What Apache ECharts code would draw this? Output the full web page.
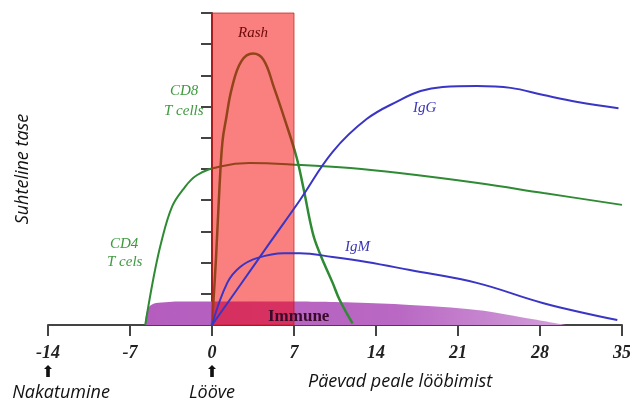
<!DOCTYPE html>
<html>
<head>
<meta charset="utf-8">
<script src="https://cdn.jsdelivr.net/npm/echarts@6/dist/echarts.min.js"></script>
<style>
  html, body { margin: 0; padding: 0; background: #fff; }
  #chart { width: 630px; height: 405px; }
</style>
</head>
<body>
<div id="chart"></div>
<script>
// days after rash vs relative level
var cd8Days = [0, 0.35, 0.65, 0.9, 1.2, 1.7, 2.5, 3.5, 4.4, 5.3, 6.2, 7.2, 7.8, 8.6, 9.2, 10.3, 10.9, 12.0];
var cd8Vals = [0, 2.2, 4.5, 5.9, 6.6, 7.6, 8.45, 8.7, 8.5, 7.6, 6.6, 5.4, 4.4, 2.95, 2.3, 1.35, 0.8, 0.05];

var cd4Days = [-5.7, -5.0, -4.3, -3.4, -2.5, -1.3, 0.7, 3.2, 7.5, 11.8, 16, 22.7, 28.3, 35];
var cd4Vals = [0, 1.5, 2.7, 3.8, 4.33, 4.8, 5.08, 5.19, 5.13, 5.03, 4.87, 4.55, 4.23, 3.85];

var igGDays = [0, 2.5, 5, 7.5, 10.3, 13.2, 16, 17.8, 19.7, 22.6, 25.5, 28.3, 31.2, 34.7];
var igGVals = [0, 1.33, 2.67, 4.0, 5.55, 6.6, 7.2, 7.5, 7.63, 7.66, 7.6, 7.37, 7.15, 6.95];

var igMDays = [0, 1.3, 2.4, 3.9, 6.1, 7.5, 10.3, 13.2, 16.9, 22.6, 28.3, 34.6];
var igMVals = [0, 1.35, 1.86, 2.15, 2.3, 2.3, 2.18, 2.02, 1.76, 1.35, 0.7, 0.16];

var immuneDays = [-5.7, -5.6, -5.2, -4.3, -2, 5, 12, 16.9, 22.6, 26.9, 30.3];
var immuneVals = [0, 0.38, 0.64, 0.72, 0.75, 0.75, 0.72, 0.64, 0.48, 0.22, 0];

var rashSpan = [0, 7];
var xTicks = { min: -14, max: 35, step: 7 };
var arrowNotes = { '-14': 'Nakatumine', '0': 'Lööve' };

function pairs(xs, ys) {
    return xs.map(function (x, i) { return [x, ys[i]]; });
}

var serif = '"Liberation Serif", "DejaVu Serif", serif';
var sans = '"Open Sans", "Noto Sans", sans-serif';

var chart = echarts.init(document.getElementById('chart'));
chart.setOption({
    animation: false,
    grid: { left: 48, right: 8, top: 13, bottom: 80, containLabel: false, outerBoundsMode: 'none' },
    xAxis: {
        type: 'value',
        min: xTicks.min,
        max: xTicks.max,
        interval: xTicks.step,
        splitLine: { show: false },
        axisLine: { lineStyle: { color: '#444', width: 2 } },
        axisTick: { length: 11, lineStyle: { color: '#444', width: 2 } },
        axisLabel: {
            margin: 18,
            formatter: function (v) {
                var note = arrowNotes[String(v)];
                if (note) {
                    return '{v|' + v + '}\n{a|⬆}\n{' + (v < 0 ? 'n' : 'l') + '|' + note + '}';
                }
                return '{v|' + v + '}';
            },
            rich: {
                v: { fontFamily: serif, fontSize: 18, fontWeight: 'bold', fontStyle: 'italic', color: '#222', lineHeight: 20 },
                a: { fontFamily: '"DejaVu Sans"', fontSize: 16, color: '#111', lineHeight: 20 },
                n: { fontFamily: sans, fontSize: 18, fontStyle: 'italic', color: '#111', lineHeight: 20, padding: [0, 0, 0, 26] },
                l: { fontFamily: sans, fontSize: 18, fontStyle: 'italic', color: '#111', lineHeight: 20, padding: [0, 0, 0, 0] }
            }
        }
    },
    yAxis: {
        type: 'value',
        min: 0,
        max: 10,
        interval: 1,
        name: 'Suhteline tase',
        nameLocation: 'middle',
        nameGap: 16,
        nameTextStyle: { fontFamily: sans, fontSize: 18, fontStyle: 'italic', color: '#111' },
        splitLine: { show: false },
        axisLine: { show: true, lineStyle: { color: '#444', width: 2 } },
        axisTick: { show: true, length: 11, lineStyle: { color: '#444', width: 2 } },
        axisLabel: { show: false }
    },
    title: {
        text: 'Päevad peale lööbimist',
        left: 303,
        top: 368,
        textStyle: { fontFamily: sans, fontSize: 18, fontStyle: 'italic', fontWeight: 'normal', color: '#111' }
    },
    graphic: [
        { type: 'text', left: 170, top: 84, style: { text: 'CD8', font: 'italic 15px ' + serif, fill: '#3f9a3f' } },
        { type: 'text', left: 164, top: 104, style: { text: 'T cells', font: 'italic 15px ' + serif, fill: '#3f9a3f' } },
        { type: 'text', left: 110, top: 237, style: { text: 'CD4', font: 'italic 15px ' + serif, fill: '#3f9a3f' } },
        { type: 'text', left: 107, top: 255, style: { text: 'T cels', font: 'italic 15px ' + serif, fill: '#3f9a3f' } },
        { type: 'text', left: 413, top: 101, style: { text: 'IgG', font: 'italic 15px ' + serif, fill: '#3b36b8' } },
        { type: 'text', left: 345, top: 240, style: { text: 'IgM', font: 'italic 15px ' + serif, fill: '#3b36b8' } },
        { type: 'text', left: 268, top: 308, z: 20, style: { text: 'Immune', font: 'bold 17px ' + serif, fill: '#3a0a2c' } }
    ],
    series: [
        {
            name: 'Immune',
            type: 'line',
            smooth: 0.4,
            symbol: 'none',
            z: 1,
            lineStyle: { width: 0 },
            areaStyle: {
                opacity: 1,
                color: new echarts.graphic.LinearGradient(0, 0, 1, 0, [
                    { offset: 0, color: '#b45dbf' },
                    { offset: 0.6, color: '#b968c3' },
                    { offset: 1, color: '#d3a0da' }
                ])
            },
            data: pairs(immuneDays, immuneVals)
        },
        {
            name: 'CD4 T cells',
            type: 'line',
            smooth: 0.4,
            symbol: 'none',
            z: 2,
            lineStyle: { color: '#2f8a34', width: 2 },
            data: pairs(cd4Days, cd4Vals)
        },
        {
            name: 'CD8 T cells',
            type: 'line',
            smooth: 0.4,
            symbol: 'none',
            z: 2,
            lineStyle: { color: '#2f8a34', width: 2.5 },
            data: pairs(cd8Days, cd8Vals)
        },
        {
            name: 'Rash',
            type: 'line',
            data: [],
            z: 3,
            markArea: {
                z: 3,
                silent: true,
                itemStyle: { color: 'rgba(245, 0, 0, 0.5)', borderColor: 'rgba(200, 20, 20, 0.7)', borderWidth: 1 },
                label: {
                    show: true,
                    position: 'insideTop',
                    distance: 13,
                    formatter: 'Rash',
                    fontFamily: serif,
                    fontSize: 15,
                    fontStyle: 'italic',
                    color: '#6e0a0a'
                },
                data: [[{ xAxis: rashSpan[0], yAxis: 10 }, { xAxis: rashSpan[1], yAxis: 0 }]]
            }
        },
        {
            name: 'IgG',
            type: 'line',
            smooth: 0.4,
            symbol: 'none',
            z: 4,
            lineStyle: { color: '#3a35c4', width: 2 },
            data: pairs(igGDays, igGVals)
        },
        {
            name: 'IgM',
            type: 'line',
            smooth: 0.4,
            symbol: 'none',
            z: 4,
            lineStyle: { color: '#3a35c4', width: 2 },
            data: pairs(igMDays, igMVals)
        }
    ]
});
</script>
</body>
</html>
